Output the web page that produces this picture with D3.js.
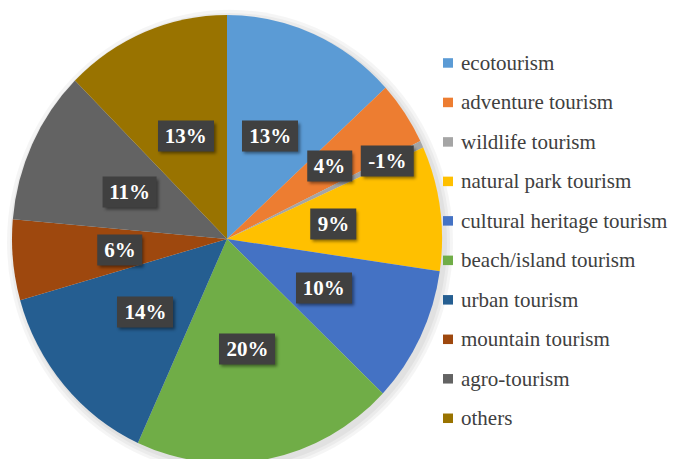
<!DOCTYPE html>
<html>
<head>
<script src="https://cdn.jsdelivr.net/npm/d3@7"></script>
</head>
<body style="margin:0">
<div id="chart" style="position:relative;width:673px;height:459px;overflow:hidden"></div>
<script>
// categories, shares and the printed labels
let categories = ["ecotourism", "adventure tourism", "wildlife tourism", "natural park tourism",
  "cultural heritage tourism", "beach/island tourism", "urban tourism", "mountain tourism",
  "agro-tourism", "others"];
let shares = [13.2, 4.6, 0.5, 9.0, 9.8, 19.7, 13.8, 5.8, 11.1, 12.5];
let shareLabels = ["13%", "4%", "-1%", "9%", "10%", "20%", "14%", "6%", "11%", "13%"];
let colors = ["#5B9BD5", "#ED7D31", "#A5A5A5", "#FFC000", "#4472C4",
  "#70AD47", "#255E91", "#9E480E", "#636363", "#997300"];

let font = "'Liberation Serif', 'Times New Roman', serif";
let stretchY = 1.042; // the pie is a bit taller than wide
let cx = 227, cy = 239, radius = 215;

let chart = d3.select("#chart");
let svg = chart.append("svg")
  .attr("width", 673)
  .attr("height", 459)
  .style("position", "absolute")
  .style("left", "0px")
  .style("top", "0px");

let pie = d3.pie().sort(null).value(d => d);
let arcs = pie(shares);
let arc = d3.arc().innerRadius(0).outerRadius(radius);

let pieGroup = svg.append("g")
  .attr("transform", `translate(${cx}, ${cy}) scale(1, ${stretchY})`);

// soft shadow behind the pie
[8, 5, 2].forEach(r => {
  pieGroup.append("circle")
    .attr("cx", 3).attr("cy", 3).attr("r", radius + r)
    .attr("fill", "#000").attr("opacity", 0.04);
});

pieGroup.selectAll("path")
  .data(arcs)
  .enter()
  .append("path")
  .attr("d", arc)
  .attr("fill", (d, i) => colors[i]);

// legend squares
let legendY = d3.scalePoint()
  .domain(categories)
  .range([62.7, 62.7 + 39.48 * (categories.length - 1)]);

svg.append("g")
  .selectAll("rect")
  .data(categories)
  .enter()
  .append("rect")
  .attr("x", 443)
  .attr("y", d => legendY(d) - 4.5)
  .attr("width", 10)
  .attr("height", 9.5)
  .attr("fill", (d, i) => colors[i]);

// Excel nudged the two tiny slices' labels outwards
let labelRadius = i => i === 2 ? 177 : i === 1 ? 124 : radius / 2;

// text as html on top of the svg
chart.selectAll(".lbl")
  .data(arcs)
  .enter()
  .append("div")
  .attr("class", "lbl")
  .style("position", "absolute")
  .style("left", (d, i) => {
    let r = labelRadius(i);
    return (cx + d3.arc().innerRadius(r).outerRadius(r).centroid(d)[0]) + "px";
  })
  .style("top", (d, i) => {
    let r = labelRadius(i);
    return (cy + d3.arc().innerRadius(r).outerRadius(r).centroid(d)[1] * stretchY) + "px";
  })
  .style("transform", "translate(-50%, -50%)")
  .style("background", "#404040")
  .style("color", "#fff")
  .style("font-family", font)
  .style("font-weight", "bold")
  .style("font-size", "21px")
  .style("height", "31px")
  .style("line-height", "31px")
  .style("padding", "0 7px")
  .style("white-space", "nowrap")
  .style("box-shadow", "2px 2px 3px rgba(0,0,0,0.45)")
  .text((d, i) => shareLabels[i]);

chart.selectAll(".leg")
  .data(categories)
  .enter()
  .append("div")
  .attr("class", "leg")
  .style("position", "absolute")
  .style("left", "461px")
  .style("top", d => (legendY(d) - 13) + "px")
  .style("height", "26px")
  .style("line-height", "26px")
  .style("font-family", font)
  .style("font-size", "21px")
  .style("color", "#404040")
  .style("white-space", "nowrap")
  .text(d => d);
</script>
</body>
</html>
